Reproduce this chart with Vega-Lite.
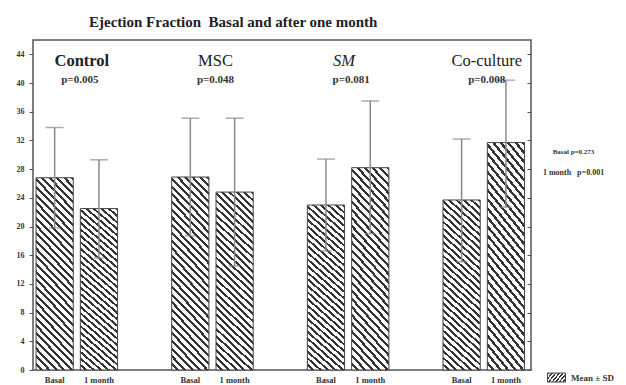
{
  "$schema": "https://vega.github.io/schema/vega-lite/v6.json",
  "width": 498,
  "height": 330,
  "autosize": "none",
  "padding": {"left": 33, "top": 40, "right": 95, "bottom": 15},
  "background": "white",
  "title": {
    "text": "Ejection Fraction\u00a0 Basal and after one month",
    "anchor": "start",
    "frame": "group",
    "dx": 56,
    "offset": -2,
    "baseline": "alphabetic",
    "font": "Liberation Serif",
    "fontSize": 15,
    "fontWeight": "bold",
    "color": "#222"
  },
  "config": {
    "view": {"stroke": "#555", "strokeWidth": 1.5},
    "axis": {"grid": false}
  },
  "datasets": {
    "bars": [
      {"group": "Control", "time": "Basal", "mean": 26.8, "lo": 19.8, "hi": 33.8},
      {"group": "Control", "time": "1 month", "mean": 22.5, "lo": 15.6, "hi": 29.3},
      {"group": "MSC", "time": "Basal", "mean": 26.9, "lo": 18.7, "hi": 35.1},
      {"group": "MSC", "time": "1 month", "mean": 24.8, "lo": 14.5, "hi": 35.1},
      {"group": "SM", "time": "Basal", "mean": 23.0, "lo": 16.6, "hi": 29.4},
      {"group": "SM", "time": "1 month", "mean": 28.2, "lo": 19.0, "hi": 37.5},
      {"group": "Co-culture", "time": "Basal", "mean": 23.7, "lo": 15.1, "hi": 32.2},
      {"group": "Co-culture", "time": "1 month", "mean": 31.7, "lo": 22.7, "hi": 40.4}
    ],
    "groups": [
      {"group": "Control", "p": "p=0.005"},
      {"group": "MSC", "p": "p=0.048"},
      {"group": "SM", "p": "p=0.081"},
      {"group": "Co-culture", "p": "p=0.008"}
    ]
  },
  "data": {"name": "bars"},
  "resolve": {"axis": {"y": "independent"}},
  "layer": [
    {
      "mark": {
        "type": "bar",
        "stroke": "#444",
        "strokeWidth": 1,
        "fill": {
          "gradient": "linear", "x1": 0, "y1": 1, "x2": 0.2308, "y2": -0.154,
          "stops": [
            {"offset": 0, "color": "#fff"}, {"offset": 0.02, "color": "#fff"}, {"offset": 0.02, "color": "#333"}, {"offset": 0.0333, "color": "#333"},
            {"offset": 0.0333, "color": "#fff"}, {"offset": 0.0533, "color": "#fff"}, {"offset": 0.0533, "color": "#333"}, {"offset": 0.0667, "color": "#333"},
            {"offset": 0.0667, "color": "#fff"}, {"offset": 0.0867, "color": "#fff"}, {"offset": 0.0867, "color": "#333"}, {"offset": 0.1, "color": "#333"},
            {"offset": 0.1, "color": "#fff"}, {"offset": 0.12, "color": "#fff"}, {"offset": 0.12, "color": "#333"}, {"offset": 0.1333, "color": "#333"},
            {"offset": 0.1333, "color": "#fff"}, {"offset": 0.1533, "color": "#fff"}, {"offset": 0.1533, "color": "#333"}, {"offset": 0.1667, "color": "#333"},
            {"offset": 0.1667, "color": "#fff"}, {"offset": 0.1867, "color": "#fff"}, {"offset": 0.1867, "color": "#333"}, {"offset": 0.2, "color": "#333"},
            {"offset": 0.2, "color": "#fff"}, {"offset": 0.22, "color": "#fff"}, {"offset": 0.22, "color": "#333"}, {"offset": 0.2333, "color": "#333"},
            {"offset": 0.2333, "color": "#fff"}, {"offset": 0.2533, "color": "#fff"}, {"offset": 0.2533, "color": "#333"}, {"offset": 0.2667, "color": "#333"},
            {"offset": 0.2667, "color": "#fff"}, {"offset": 0.2867, "color": "#fff"}, {"offset": 0.2867, "color": "#333"}, {"offset": 0.3, "color": "#333"},
            {"offset": 0.3, "color": "#fff"}, {"offset": 0.32, "color": "#fff"}, {"offset": 0.32, "color": "#333"}, {"offset": 0.3333, "color": "#333"},
            {"offset": 0.3333, "color": "#fff"}, {"offset": 0.3533, "color": "#fff"}, {"offset": 0.3533, "color": "#333"}, {"offset": 0.3667, "color": "#333"},
            {"offset": 0.3667, "color": "#fff"}, {"offset": 0.3867, "color": "#fff"}, {"offset": 0.3867, "color": "#333"}, {"offset": 0.4, "color": "#333"},
            {"offset": 0.4, "color": "#fff"}, {"offset": 0.42, "color": "#fff"}, {"offset": 0.42, "color": "#333"}, {"offset": 0.4333, "color": "#333"},
            {"offset": 0.4333, "color": "#fff"}, {"offset": 0.4533, "color": "#fff"}, {"offset": 0.4533, "color": "#333"}, {"offset": 0.4667, "color": "#333"},
            {"offset": 0.4667, "color": "#fff"}, {"offset": 0.4867, "color": "#fff"}, {"offset": 0.4867, "color": "#333"}, {"offset": 0.5, "color": "#333"},
            {"offset": 0.5, "color": "#fff"}, {"offset": 0.52, "color": "#fff"}, {"offset": 0.52, "color": "#333"}, {"offset": 0.5333, "color": "#333"},
            {"offset": 0.5333, "color": "#fff"}, {"offset": 0.5533, "color": "#fff"}, {"offset": 0.5533, "color": "#333"}, {"offset": 0.5667, "color": "#333"},
            {"offset": 0.5667, "color": "#fff"}, {"offset": 0.5867, "color": "#fff"}, {"offset": 0.5867, "color": "#333"}, {"offset": 0.6, "color": "#333"},
            {"offset": 0.6, "color": "#fff"}, {"offset": 0.62, "color": "#fff"}, {"offset": 0.62, "color": "#333"}, {"offset": 0.6333, "color": "#333"},
            {"offset": 0.6333, "color": "#fff"}, {"offset": 0.6533, "color": "#fff"}, {"offset": 0.6533, "color": "#333"}, {"offset": 0.6667, "color": "#333"},
            {"offset": 0.6667, "color": "#fff"}, {"offset": 0.6867, "color": "#fff"}, {"offset": 0.6867, "color": "#333"}, {"offset": 0.7, "color": "#333"},
            {"offset": 0.7, "color": "#fff"}, {"offset": 0.72, "color": "#fff"}, {"offset": 0.72, "color": "#333"}, {"offset": 0.7333, "color": "#333"},
            {"offset": 0.7333, "color": "#fff"}, {"offset": 0.7533, "color": "#fff"}, {"offset": 0.7533, "color": "#333"}, {"offset": 0.7667, "color": "#333"},
            {"offset": 0.7667, "color": "#fff"}, {"offset": 0.7867, "color": "#fff"}, {"offset": 0.7867, "color": "#333"}, {"offset": 0.8, "color": "#333"},
            {"offset": 0.8, "color": "#fff"}, {"offset": 0.82, "color": "#fff"}, {"offset": 0.82, "color": "#333"}, {"offset": 0.8333, "color": "#333"},
            {"offset": 0.8333, "color": "#fff"}, {"offset": 0.8533, "color": "#fff"}, {"offset": 0.8533, "color": "#333"}, {"offset": 0.8667, "color": "#333"},
            {"offset": 0.8667, "color": "#fff"}, {"offset": 0.8867, "color": "#fff"}, {"offset": 0.8867, "color": "#333"}, {"offset": 0.9, "color": "#333"},
            {"offset": 0.9, "color": "#fff"}, {"offset": 0.92, "color": "#fff"}, {"offset": 0.92, "color": "#333"}, {"offset": 0.9333, "color": "#333"},
            {"offset": 0.9333, "color": "#fff"}, {"offset": 0.9533, "color": "#fff"}, {"offset": 0.9533, "color": "#333"}, {"offset": 0.9667, "color": "#333"},
            {"offset": 0.9667, "color": "#fff"}, {"offset": 0.9867, "color": "#fff"}, {"offset": 0.9867, "color": "#333"}, {"offset": 1, "color": "#333"}
          ]
        }
      },
      "encoding": {
        "x": {"field": "group", "type": "nominal", "sort": ["Control", "MSC", "SM", "Co-culture"], "scale": {"paddingInner": 0.399, "paddingOuter": 0.035, "align": 0.32}, "axis": null},
        "xOffset": {"field": "time", "type": "nominal", "sort": ["Basal", "1 month"], "scale": {"paddingInner": 0.16, "paddingOuter": 0}},
        "y": {
          "field": "mean", "type": "quantitative",
          "scale": {"domain": [0, 46], "nice": false},
          "axis": {
            "orient": "left", "title": null, "values": [0, 4, 8, 12, 16, 20, 24, 28, 32, 36, 40, 44],
            "domain": false, "tickSize": 4, "tickColor": "#555", "tickWidth": 1,
            "labelFont": "Liberation Serif", "labelFontWeight": "bold", "labelFontSize": 8, "labelColor": "#333", "labelPadding": 5
          }
        },
        "opacity": {
          "datum": "Mean ± SD", "type": "ordinal",
          "scale": {"range": [1]},
          "legend": {
            "title": null, "orient": "none", "legendX": 514, "legendY": 328, "padding": 0,
            "symbolType": "M-1,-0.5H1V0.5H-1Z", "symbolSize": 324, "symbolStrokeWidth": 1,
            "labelFont": "Liberation Serif", "labelFontWeight": "bold", "labelFontSize": 9, "labelColor": "#333", "labelOffset": 5
          }
        }
      }
    },
    {
      "mark": {"type": "rule", "strokeWidth": 1.5, "color": "#8a8a8a"},
      "encoding": {
        "x": {"field": "group", "type": "nominal", "sort": ["Control", "MSC", "SM", "Co-culture"], "axis": null},
        "xOffset": {"field": "time", "type": "nominal", "sort": ["Basal", "1 month"]},
        "y": {
          "field": "lo", "type": "quantitative",
          "axis": {
            "orient": "right", "title": null, "values": [0, 4, 8, 12, 16, 20, 24, 28, 32, 36, 40, 44],
            "domain": false, "labels": false, "tickSize": -4, "tickColor": "#555", "tickWidth": 1
          }
        },
        "y2": {"field": "hi"}
      }
    },
    {
      "mark": {"type": "tick", "color": "#8a8a8a", "thickness": 1.5, "size": 18},
      "encoding": {
        "x": {"field": "group", "type": "nominal", "sort": ["Control", "MSC", "SM", "Co-culture"], "axis": null},
        "xOffset": {"field": "time", "type": "nominal", "sort": ["Basal", "1 month"]},
        "y": {"field": "hi", "type": "quantitative", "axis": null}
      }
    },
    {
      "mark": {"type": "tick", "color": "#8a8a8a", "thickness": 1.5, "size": 11},
      "encoding": {
        "x": {"field": "group", "type": "nominal", "sort": ["Control", "MSC", "SM", "Co-culture"], "axis": null},
        "xOffset": {"field": "time", "type": "nominal", "sort": ["Basal", "1 month"]},
        "y": {
          "field": "lo", "type": "quantitative",
          "axis": {
            "orient": "right", "title": null, "values": [30.4, 27.5],
            "labelExpr": "datum.value > 29 ? 'Basal p=0.273' : '1 month\u00a0\u00a0 p=0.001'",
            "ticks": false, "domain": false, "labelAlign": "center", "labelBaseline": "middle", "labelPadding": 42,
            "labelFont": "Liberation Serif", "labelFontWeight": "bold",
            "labelFontSize": {"condition": {"test": "datum.value < 29", "value": 8}, "value": 7},
            "labelColor": "#333",
            "labelOverlap": false, "labelBound": false, "labelFlush": false
          }
        }
      }
    },
    {
      "mark": {"type": "text", "font": "Liberation Serif", "fontWeight": "bold", "fontSize": 8.5, "color": "#333", "baseline": "middle"},
      "encoding": {
        "x": {"field": "group", "type": "nominal", "sort": ["Control", "MSC", "SM", "Co-culture"], "axis": null},
        "xOffset": {"field": "time", "type": "nominal", "sort": ["Basal", "1 month"]},
        "y": {"datum": -1.45, "type": "quantitative", "axis": null},
        "text": {"field": "time"}
      }
    },
    {
      "data": {"name": "groups"},
      "transform": [{"filter": "datum.group === 'Control'"}],
      "mark": {"type": "text", "font": "Liberation Serif", "fontWeight": "bold", "fontSize": 16.5, "color": "#222", "baseline": "alphabetic", "dx": 5},
      "encoding": {
        "x": {"field": "group", "type": "nominal", "sort": ["Control", "MSC", "SM", "Co-culture"], "axis": null},
        "y": {"datum": 42.4, "type": "quantitative", "axis": null},
        "text": {"field": "group"}
      }
    },
    {
      "data": {"name": "groups"},
      "transform": [{"filter": "datum.group === 'MSC' || datum.group === 'Co-culture'"}],
      "mark": {"type": "text", "font": "Liberation Serif", "fontSize": 16.5, "color": "#222", "baseline": "alphabetic", "dx": 3},
      "encoding": {
        "x": {"field": "group", "type": "nominal", "sort": ["Control", "MSC", "SM", "Co-culture"], "axis": null},
        "y": {"datum": 42.4, "type": "quantitative", "axis": null},
        "text": {"field": "group"}
      }
    },
    {
      "data": {"name": "groups"},
      "transform": [{"filter": "datum.group === 'SM'"}],
      "mark": {"type": "text", "font": "Liberation Serif", "fontStyle": "italic", "fontSize": 16.5, "color": "#222", "baseline": "alphabetic", "dx": -4},
      "encoding": {
        "x": {"field": "group", "type": "nominal", "sort": ["Control", "MSC", "SM", "Co-culture"], "axis": null},
        "y": {"datum": 42.4, "type": "quantitative", "axis": null},
        "text": {"field": "group"}
      }
    },
    {
      "data": {"name": "groups"},
      "mark": {"type": "text", "font": "Liberation Serif", "fontWeight": "bold", "fontSize": 11, "color": "#333", "baseline": "alphabetic", "dx": 3},
      "encoding": {
        "x": {"field": "group", "type": "nominal", "sort": ["Control", "MSC", "SM", "Co-culture"], "axis": null},
        "y": {"datum": 40.0, "type": "quantitative", "axis": null},
        "text": {"field": "p"}
      }
    }
  ]
}
